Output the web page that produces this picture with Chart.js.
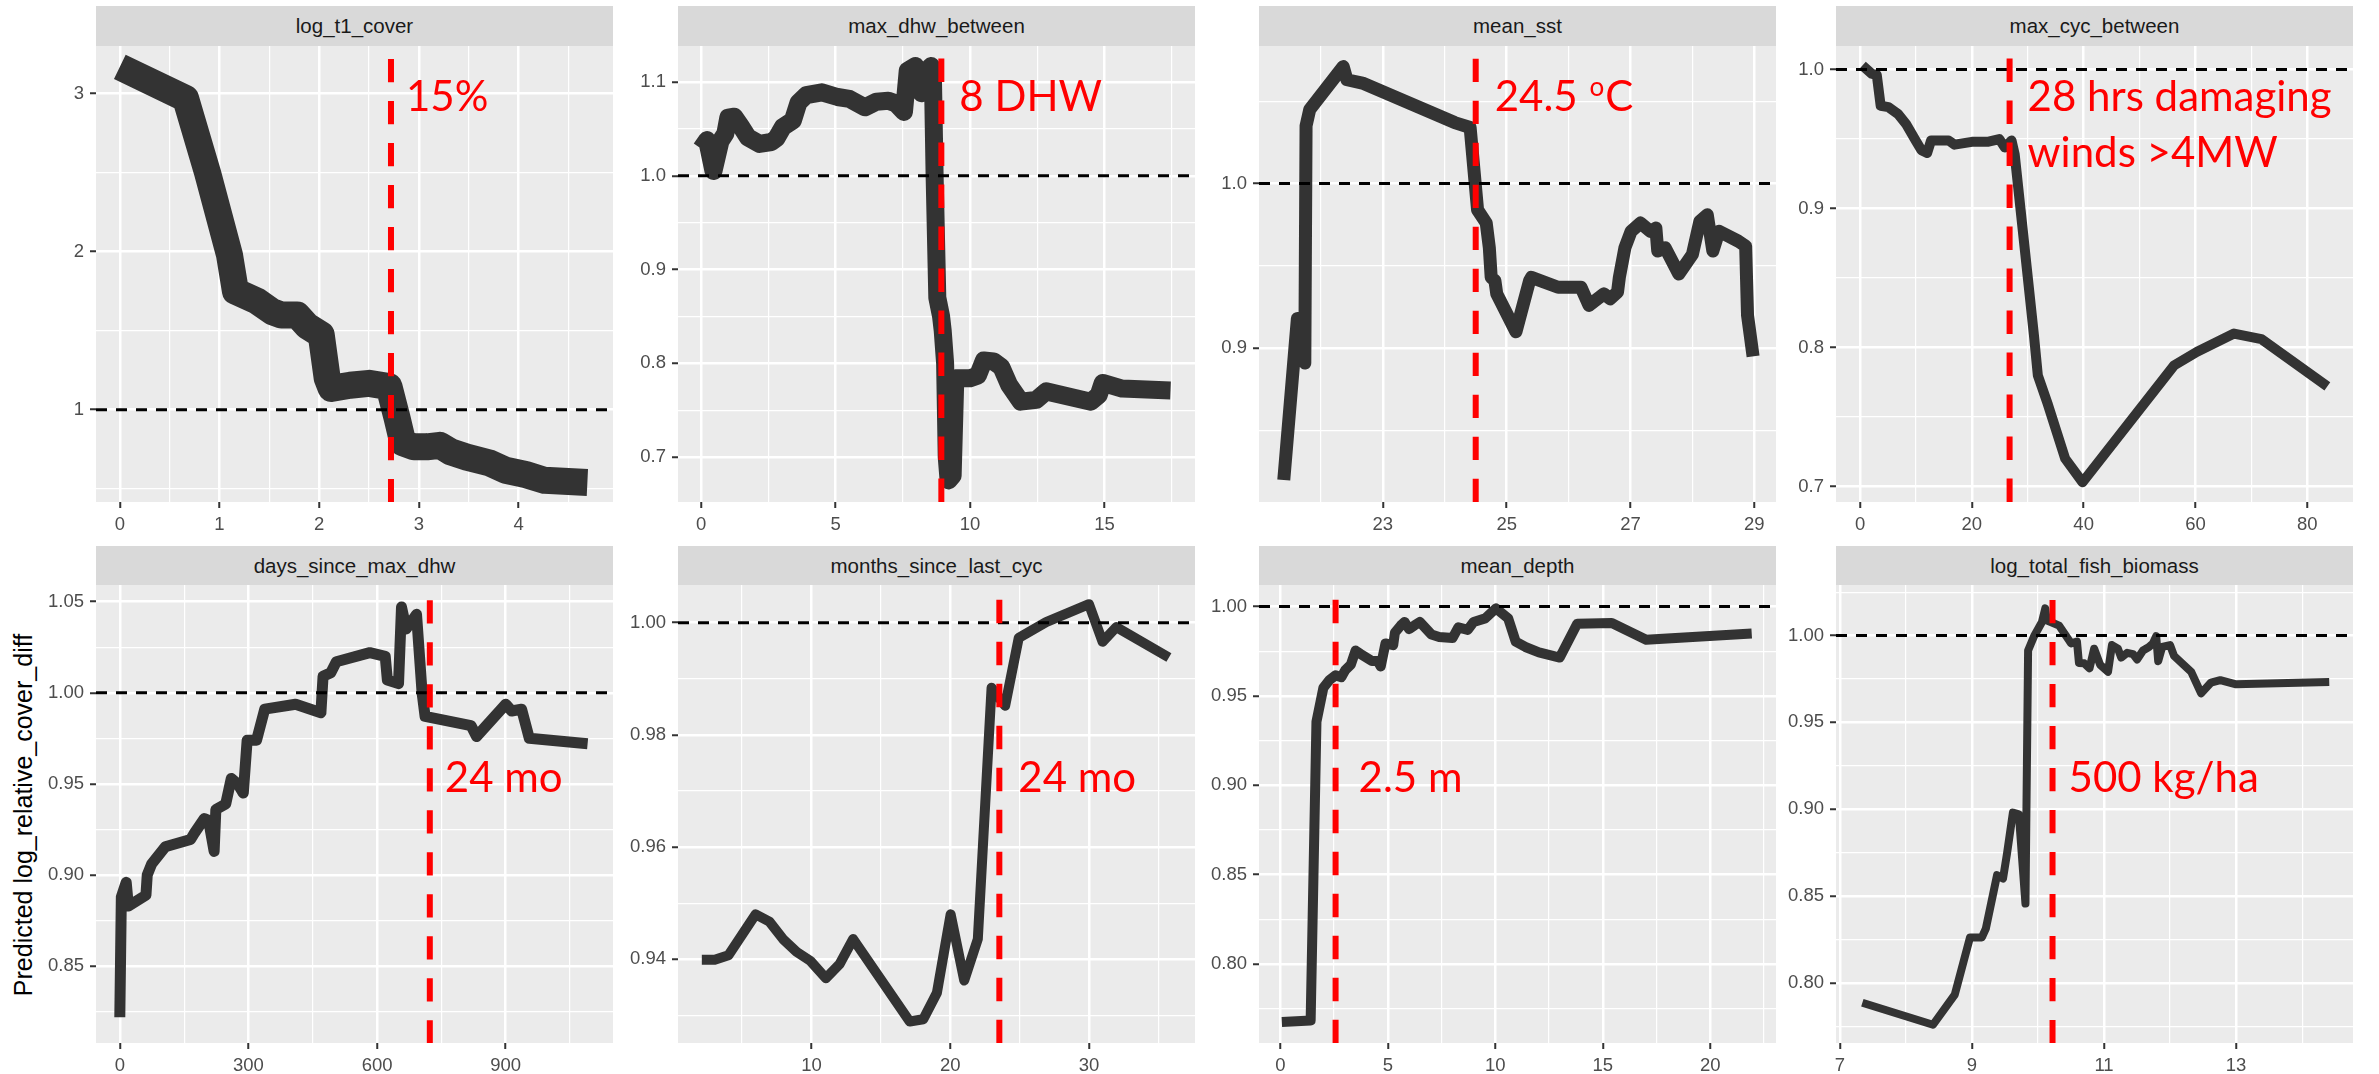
<!DOCTYPE html>
<html><head><meta charset="utf-8">
<script src="https://cdn.jsdelivr.net/npm/chart.js@4.4.1/dist/chart.umd.min.js"></script>
<style>
html,body{margin:0;padding:0;background:#fff;width:2379px;height:1074px;overflow:hidden;}
#wrap{position:relative;width:2379px;height:1074px;}
.strip{position:absolute;background:#D9D9D9;color:#1A1A1A;font-family:"Liberation Sans",Arial,sans-serif;font-size:20.5px;text-align:center;}
canvas{position:absolute;}
#ytitle{position:absolute;left:23px;top:815px;transform:translate(-50%,-50%) rotate(-90deg);white-space:nowrap;font-family:"Liberation Sans",Arial,sans-serif;font-size:25px;color:#000;}
</style></head><body><div id="wrap"><div id="ytitle">Predicted log_relative_cover_diff</div></div>
<script>
// ---------- data ----------
const panelTitles = ["log_t1_cover","max_dhw_between","mean_sst","max_cyc_between",
  "days_since_max_dhw","months_since_last_cyc","mean_depth","log_total_fish_biomass"];

const logT1Cover = [[0,3.17],[0.66,2.97],[0.88,2.50],[1.10,1.98],[1.16,1.75],[1.37,1.69],[1.53,1.62],[1.62,1.60],[1.78,1.60],[1.88,1.53],[2.02,1.475],[2.08,1.20],[2.12,1.135],[2.31,1.155],[2.50,1.167],[2.70,1.146],[2.78,0.95],[2.84,0.79],[2.95,0.765],[3.08,0.765],[3.21,0.775],[3.32,0.733],[3.48,0.70],[3.71,0.663],[3.87,0.617],[4.07,0.59],[4.26,0.553],[4.69,0.54]];
const maxDhwBetween = [[0.0,1.029],[0.22,1.038],[0.46,1.005],[0.72,1.037],[0.9,1.045],[1.01,1.062],[1.23,1.063],[1.45,1.054],[1.74,1.041],[2.17,1.034],[2.61,1.036],[2.8,1.04],[3.04,1.052],[3.41,1.059],[3.62,1.078],[3.91,1.086],[4.49,1.089],[5.07,1.084],[5.51,1.082],[6.09,1.073],[6.52,1.079],[6.96,1.080],[7.25,1.077],[7.54,1.068],[7.68,1.112],[7.97,1.117],[8.19,1.088],[8.40,1.112],[8.55,1.117],[8.62,1.10],[8.68,1.00],[8.78,0.87],[8.92,0.85],[8.98,0.835],[9.07,0.80],[9.13,0.70],[9.20,0.675],[9.35,0.68],[9.45,0.784],[10.0,0.784],[10.29,0.787],[10.51,0.803],[10.87,0.802],[11.16,0.796],[11.45,0.777],[11.88,0.759],[12.46,0.761],[12.83,0.770],[14.49,0.759],[14.78,0.766],[14.93,0.779],[15.65,0.773],[17.45,0.771]];
const meanSst = [[21.40,0.820],[21.62,0.918],[21.74,0.891],[21.76,1.035],[21.82,1.045],[22.36,1.071],[22.42,1.063],[22.67,1.061],[24.16,1.037],[24.41,1.034],[24.53,0.984],[24.67,0.976],[24.72,0.961],[24.75,0.943],[24.81,0.941],[24.84,0.933],[25.15,0.910],[25.37,0.941],[25.40,0.943],[25.83,0.937],[26.20,0.937],[26.33,0.926],[26.57,0.933],[26.67,0.930],[26.79,0.934],[26.82,0.943],[26.91,0.961],[27.01,0.971],[27.16,0.976],[27.32,0.971],[27.41,0.973],[27.44,0.959],[27.56,0.961],[27.78,0.945],[28.0,0.957],[28.12,0.977],[28.24,0.981],[28.33,0.959],[28.43,0.971],[28.74,0.965],[28.86,0.962],[28.89,0.920],[28.98,0.895]];
const maxCycBetween = [[0.42,1.003],[2.08,0.997],[2.99,0.996],[3.68,0.974],[5.07,0.973],[6.81,0.968],[8.2,0.961],[9.94,0.949],[10.98,0.942],[12.0,0.940],[12.7,0.949],[15.84,0.949],[16.9,0.946],[20.0,0.948],[22.8,0.948],[24.9,0.950],[25.9,0.944],[27.1,0.949],[27.66,0.939],[31.1,0.809],[31.8,0.780],[33.6,0.759],[36.7,0.720],[39.8,0.703],[56.15,0.787],[60.3,0.797],[66.9,0.810],[71.8,0.806],[83.6,0.772]];
const daysSinceMaxDhw = [[0,0.822],[3.6,0.888],[15,0.896],[20,0.883],[61,0.889],[64,0.900],[74,0.906],[106,0.9155],[165,0.9195],[174,0.923],[197,0.931],[207,0.930],[220,0.913],[224,0.936],[247,0.939],[260,0.953],[275,0.950],[288,0.945],[297,0.974],[319,0.974],[338,0.991],[410,0.9937],[469,0.989],[474,1.009],[492,1.011],[505,1.017],[583,1.022],[619,1.020],[624,1.007],[650,1.005],[657,1.047],[668,1.035],[692,1.043],[705,1.00],[712,0.987],[819,0.982],[832,0.976],[900,0.9937],[914,0.990],[937,0.991],[955,0.975],[1091,0.972]];
const monthsSinceLastCyc = [[2.1,0.9399],[3.03,0.9399],[4.02,0.9407],[5.98,0.948],[6.97,0.9467],[7.95,0.9436],[8.93,0.9413],[9.92,0.9397],[11.04,0.9366],[12.02,0.9391],[13.0,0.9436],[17.08,0.9289],[18.06,0.9293],[19.04,0.934],[20.03,0.948],[21.01,0.9362],[21.99,0.9436],[22.98,0.9884],[23.96,0.9852],[24.94,0.9973],[26.91,1.0001],[30.0,1.0033],[30.98,0.9966],[31.97,0.9992],[35.76,0.9938]];
const meanDepth = [[0.07,0.7675],[1.41,0.7683],[1.68,0.9355],[2.0,0.9545],[2.30,0.9591],[2.57,0.9615],[2.84,0.9605],[3.02,0.9645],[3.28,0.9675],[3.50,0.9754],[3.73,0.9735],[4.26,0.9695],[4.53,0.9695],[4.67,0.9665],[4.89,0.9794],[5.25,0.9784],[5.33,0.9854],[5.60,0.9894],[5.78,0.9914],[5.99,0.9874],[6.23,0.9894],[6.49,0.9914],[7.03,0.9844],[7.39,0.9830],[8.01,0.9824],[8.28,0.9884],[8.72,0.9870],[8.99,0.9914],[9.53,0.9934],[10.03,0.999],[10.60,0.9934],[10.95,0.9804],[11.40,0.9774],[12.03,0.9744],[13.0,0.9715],[13.81,0.9904],[15.42,0.9908],[17.02,0.9814],[21.93,0.9850]];
const logTotalFishBiomass = [[7.34,0.7885],[8.41,0.7758],[8.74,0.7932],[8.97,0.8261],[9.15,0.8261],[9.21,0.8312],[9.38,0.862],[9.47,0.860],[9.53,0.8743],[9.62,0.898],[9.71,0.897],[9.81,0.8456],[9.85,0.9914],[9.94,0.9996],[10.06,1.0078],[10.11,1.0156],[10.13,1.0088],[10.32,1.0057],[10.50,0.9955],[10.59,0.9965],[10.62,0.9842],[10.70,0.984],[10.78,0.9811],[10.85,0.9924],[10.94,0.9832],[11.06,0.9791],[11.12,0.9945],[11.21,0.9924],[11.26,0.9873],[11.35,0.990],[11.44,0.9893],[11.50,0.9862],[11.59,0.9914],[11.68,0.9934],[11.74,0.9955],[11.79,0.9996],[11.82,0.9852],[11.88,0.9934],[12.0,0.9945],[12.06,0.9883],[12.32,0.9791],[12.47,0.9667],[12.62,0.9729],[12.76,0.9743],[13.0,0.9719],[14.41,0.9733]];

const series = [logT1Cover, maxDhwBetween, meanSst, maxCycBetween, daysSinceMaxDhw, monthsSinceLastCyc, meanDepth, logTotalFishBiomass];

const xLimits = [[-0.239,4.947],[-0.86,18.36],[21.0,29.35],[-4.31,88.19],[-55.5,1150.2],[0.383,37.64],[-0.993,23.06],[6.941,14.77]];
const yLimits = [[0.416,3.302],[0.652,1.1384],[0.8066,1.0835],[0.6888,1.017],[0.8079,1.0591],[0.92506,1.00672],[0.7557,1.0121],[0.7653,1.0291]];
const xTickValues = [[0,1,2,3,4],[0,5,10,15],[23,25,27,29],[0,20,40,60,80],[0,300,600,900],[10,20,30],[0,5,10,15,20],[7,9,11,13]];
const xTickLabels = [["0","1","2","3","4"],["0","5","10","15"],["23","25","27","29"],["0","20","40","60","80"],["0","300","600","900"],["10","20","30"],["0","5","10","15","20"],["7","9","11","13"]];
const yTickValues = [[1,2,3],[0.7,0.8,0.9,1.0,1.1],[0.9,1.0],[0.7,0.8,0.9,1.0],[0.85,0.90,0.95,1.00,1.05],[0.94,0.96,0.98,1.00],[0.80,0.85,0.90,0.95,1.00],[0.80,0.85,0.90,0.95,1.00]];
const yTickLabels = [["1","2","3"],["0.7","0.8","0.9","1.0","1.1"],["0.9","1.0"],["0.7","0.8","0.9","1.0"],["0.85","0.90","0.95","1.00","1.05"],["0.94","0.96","0.98","1.00"],["0.80","0.85","0.90","0.95","1.00"],["0.80","0.85","0.90","0.95","1.00"]];

const referenceLevel = 1;
const thresholds = [2.72, 8.93, 24.50, 26.75, 723, 23.54, 2.57, 10.22];
const thresholdTop = [3.22, 1.125, 1.0758, 1.008, 1.0508, 1.00407, 1.0038, 1.0205];
const annotationText = [["15%"],["8 DHW"],["24.5 ^oC"],["28 hrs damaging","winds >4MW"],["24 mo"],["24 mo"],["2.5 m"],["500 kg/ha"]];

// ---------- layout / style ----------
const colLeft = [96, 678, 1259, 1836];
const panelW = 517;
const rowTop = [46, 585];
const rowH = [456, 458];
const stripTop = [6, 546];
const stripH = [40, 39];
const lineWidths = [27, 18, 13, 10, 11, 10, 10, 8];
const annotDx = [15, 18, 19, 18, 15, 19, 23, 16];
const annotDy = [64.5, 64.5, 64.5, 64.5, 207, 207, 207, 207];
const annotLineGap = 56.5;
const AXW = 90, AXH = 40, PADT = 20, PADR = 30;
const tickFont = {family: "'Liberation Sans', Arial, sans-serif", size: 18.5};

function buildTicks(majors, labels, lim) {
  const out = majors.map((v, k) => ({value: v, lbl: labels[k], minor: false}));
  const step = majors.length > 1 ? majors[1] - majors[0] : 0.1;
  const cands = [majors[0] - step / 2];
  majors.forEach(v => cands.push(v + step / 2));
  cands.forEach(v => { if (v > lim[0] + 1e-9 && v < lim[1] - 1e-9) out.push({value: v, lbl: '', minor: true}); });
  return out;
}

const bgPlugin = {
  id: 'panelBg',
  beforeDraw(chart) {
    const a = chart.chartArea, c = chart.ctx;
    c.save(); c.fillStyle = '#EBEBEB';
    c.fillRect(a.left, a.top, a.right - a.left, a.bottom - a.top);
    c.restore();
  }
};

function annotPlugin(i) {
  return {
    id: 'annot' + i,
    afterDraw(chart) {
      const c = chart.ctx, a = chart.chartArea;
      const x0 = chart.scales.x.getPixelForValue(thresholds[i]) + annotDx[i];
      c.save();
      c.fillStyle = '#FF0000';
      c.textBaseline = 'alphabetic';
      c.textAlign = 'left';
      annotationText[i].forEach((line, k) => {
        const yb = a.top + annotDy[i] + k * annotLineGap;
        let x = x0;
        const parts = line.split('^');
        parts.forEach((p, j) => {
          if (j > 0 && p.length) {
            c.font = "26px Lato, 'Open Sans', sans-serif";
            c.fillText(p[0], x + 1, yb - 15);
            x += c.measureText(p[0]).width + 2;
            p = p.slice(1);
          }
          c.font = "42px Lato, 'Open Sans', sans-serif";
          c.fillText(p, x, yb);
          x += c.measureText(p).width;
        });
      });
      c.restore();
    }
  };
}

const wrap = document.getElementById('wrap');

for (let i = 0; i < 8; i++) {
  const col = i % 4, row = Math.floor(i / 4);
  const left = colLeft[col], top = rowTop[row], h = rowH[row];

  const strip = document.createElement('div');
  strip.className = 'strip';
  strip.style.left = left + 'px'; strip.style.top = stripTop[row] + 'px';
  strip.style.width = panelW + 'px'; strip.style.height = stripH[row] + 'px';
  strip.style.lineHeight = stripH[row] + 'px';
  strip.textContent = panelTitles[i];
  wrap.appendChild(strip);

  const cw = panelW + AXW + PADR, ch = h + PADT + AXH;
  const canvas = document.createElement('canvas');
  canvas.width = cw; canvas.height = ch;
  canvas.style.width = cw + 'px'; canvas.style.height = ch + 'px';
  canvas.style.left = (left - AXW) + 'px'; canvas.style.top = (top - PADT) + 'px';
  wrap.appendChild(canvas);

  const xt = buildTicks(xTickValues[i], xTickLabels[i], xLimits[i]);
  const yt = buildTicks(yTickValues[i], yTickLabels[i], yLimits[i]);

  const axisCommon = {
    type: 'linear',
    border: {display: false},
    grid: {
      color: '#FFFFFF',
      lineWidth: c => (c.tick && c.tick.minor) ? 1.2 : 2.5,
      tickColor: c => (c.tick && c.tick.minor) ? 'rgba(0,0,0,0)' : '#333333',
      tickWidth: 2,
      tickLength: 6,
      drawTicks: true
    },
    ticks: {
      font: tickFont, color: '#4D4D4D', padding: 6, autoSkip: false, maxRotation: 0,
      callback: (v, k, t) => t[k].lbl || ''
    }
  };

  new Chart(canvas, {
    type: 'line',
    data: {
      datasets: [
        {data: series[i].map(p => ({x: p[0], y: p[1]})), borderColor: '#333333', borderWidth: lineWidths[i],
         pointRadius: 0, tension: 0, borderJoinStyle: 'round', borderCapStyle: 'butt', clip: 0, order: 3},
        {data: [{x: xLimits[i][0], y: referenceLevel}, {x: xLimits[i][1], y: referenceLevel}], borderColor: '#000000',
         borderWidth: 3, borderDash: [11, 9], pointRadius: 0, clip: 0, order: 2},
        {data: [{x: thresholds[i], y: thresholdTop[i]}, {x: thresholds[i], y: yLimits[i][0]}], borderColor: '#FF0000',
         borderWidth: 6, borderDash: [23.4, 18.6], pointRadius: 0, clip: 0, order: 1}
      ]
    },
    options: {
      responsive: false, animation: false, devicePixelRatio: 1,
      layout: {padding: {left: 0, top: PADT, right: PADR, bottom: 0}},
      plugins: {legend: {display: false}, tooltip: {enabled: false}},
      scales: {
        x: Object.assign({}, axisCommon, {
          position: 'bottom', min: xLimits[i][0], max: xLimits[i][1],
          afterBuildTicks: s => { s.ticks = xt.map(t => Object.assign({}, t)); },
          afterFit: s => { s.height = AXH; }
        }),
        y: Object.assign({}, axisCommon, {
          position: 'left', min: yLimits[i][0], max: yLimits[i][1],
          afterBuildTicks: s => { s.ticks = yt.map(t => Object.assign({}, t)); },
          afterFit: s => { s.width = AXW; }
        })
      }
    },
    plugins: [bgPlugin, annotPlugin(i)]
  });
}
</script>
</body></html>
